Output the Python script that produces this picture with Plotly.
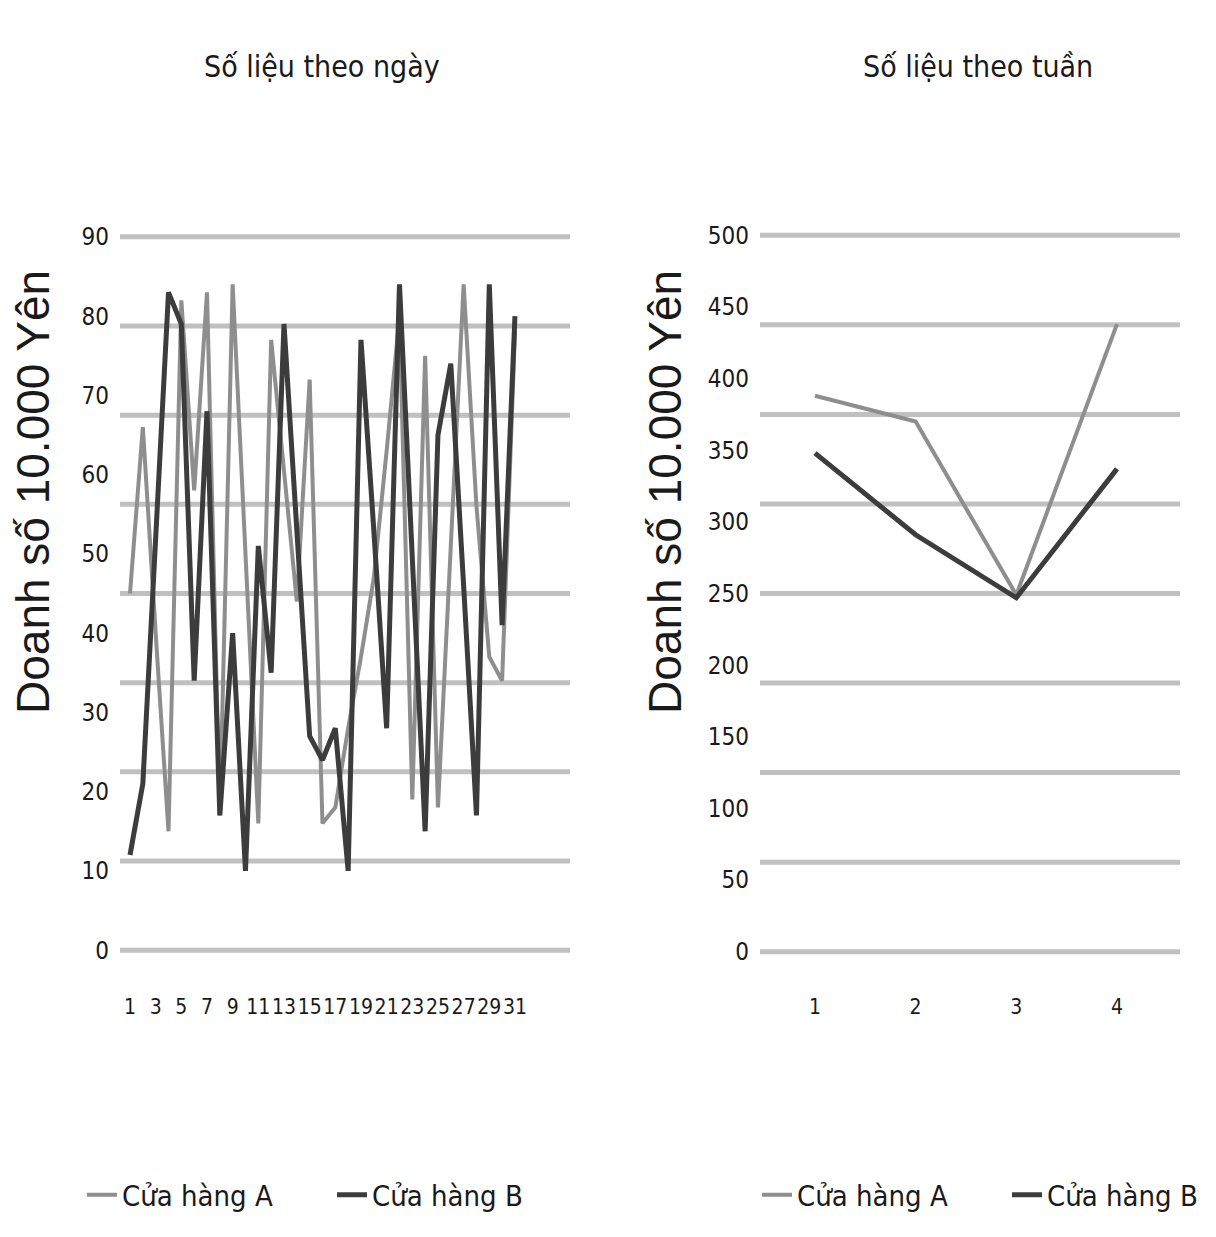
import plotly.graph_objects as go

# ---- data -------------------------------------------------------------
days = list(range(1, 32))
store_a_daily = [45, 66, 40, 15, 82, 58, 83, 17, 84, 50,
                 16, 77, 60, 44, 72, 16, 18, 28, 37, 47,
                 63, 80, 19, 75, 18, 51, 84, 56, 37, 34, 78]
store_b_daily = [12, 21, 52, 83, 79, 34, 68, 17, 40, 10,
                 51, 35, 79, 53, 27, 24, 28, 10, 77, 53,
                 28, 84, 50, 15, 65, 74, 46, 17, 84, 41, 80]

weeks = ["1", "2", "3", "4"]
store_a_weekly = [388, 370, 249, 438]
store_b_weekly = [348, 291, 247, 337]

series_names = ["Cửa hàng A", "Cửa hàng B"]
chart_titles = ["Số liệu theo ngày", "Số liệu theo tuần"]
y_title = "Doanh số 10.000 Yên"
daily_day_ticks = list(range(1, 32, 2))
daily_value_ticks = list(range(0, 91, 10))
weekly_value_ticks = list(range(0, 501, 50))

# ---- styling ----------------------------------------------------------
W, H = 1216, 1237
NARROW = "Liberation Sans Narrow, DejaVu Sans Condensed, Arial Narrow, sans-serif"
WIDE = "Liberation Sans, Arial, sans-serif"
COL_A = "#8e8e8e"
COL_B = "#3c3c3c"
GRID = "#c0c0c0"
TEXT = "#1a1a1a"
GRID_BANDS = 8


def px_x(p):
    return p / W


def px_y(p):
    return 1 - p / H


daily_max = daily_value_ticks[-1]
weekly_max = weekly_value_ticks[-1]
daily_range = [-2, daily_max + 2]
weekly_range = [-10, weekly_max + 10]
# horizontal rules split the value range into equal bands
daily_grid = [daily_max * i / GRID_BANDS for i in range(GRID_BANDS + 1)]
weekly_grid = [weekly_max * i / GRID_BANDS for i in range(GRID_BANDS + 1)]

y_dom = [px_y(966), px_y(221)]

fig = go.Figure()

fig.add_trace(go.Scatter(x=days, y=store_a_daily, name=series_names[0], mode="lines",
                         line=dict(color=COL_A, width=4), xaxis="x", yaxis="y",
                         legend="legend"))
fig.add_trace(go.Scatter(x=days, y=store_b_daily, name=series_names[1], mode="lines",
                         line=dict(color=COL_B, width=5), xaxis="x", yaxis="y",
                         legend="legend"))
fig.add_trace(go.Scatter(x=weeks, y=store_a_weekly, name=series_names[0], mode="lines",
                         line=dict(color=COL_A, width=4), xaxis="x2", yaxis="y2",
                         legend="legend2"))
fig.add_trace(go.Scatter(x=weeks, y=store_b_weekly, name=series_names[1], mode="lines",
                         line=dict(color=COL_B, width=5), xaxis="x2", yaxis="y2",
                         legend="legend2"))

x_tick_font = dict(family=NARROW, size=21, color=TEXT)
y_tick_font = dict(family=NARROW, size=24, color=TEXT)

common_x = dict(showline=False, zeroline=False, showgrid=False, ticks="",
                tickfont=x_tick_font, tickangle=0, ticklabelstandoff=26,
                automargin=False)
common_y = dict(showline=False, zeroline=False, showgrid=False, ticks="",
                tickfont=y_tick_font, ticklabelstandoff=10, automargin=False)

legend_style = dict(orientation="h", y=px_y(1195), xanchor="left", yanchor="middle",
                    font=dict(family=NARROW, size=29, color=TEXT),
                    bgcolor="rgba(0,0,0,0)", entrywidth=205, entrywidthmode="pixels")

fig.update_layout(
    width=W, height=H,
    margin=dict(l=0, r=0, t=0, b=0, autoexpand=False),
    paper_bgcolor="white", plot_bgcolor="white",
    xaxis=dict(domain=[px_x(120), px_x(570)], range=[0.22, 35.29],
               tickvals=daily_day_ticks, anchor="y", **common_x),
    yaxis=dict(domain=y_dom, range=daily_range, tickvals=daily_value_ticks,
               anchor="x", **common_y),
    xaxis2=dict(domain=[px_x(760), px_x(1180)], range=[-0.546, 3.626],
                type="category", anchor="y2", **common_x),
    yaxis2=dict(domain=y_dom, range=weekly_range, tickvals=weekly_value_ticks,
                anchor="x2", **common_y),
    legend=dict(x=px_x(82), **legend_style),
    legend2=dict(x=px_x(757), **legend_style),
    showlegend=True,
)

# horizontal rules behind the lines
for yref, xref, levels in [("y", "x domain", daily_grid), ("y2", "x2 domain", weekly_grid)]:
    for lv in levels:
        fig.add_shape(type="line", xref=xref, yref=yref, x0=0, x1=1, y0=lv, y1=lv,
                      line=dict(color=GRID, width=5), layer="below")

# chart titles
for title, cx in zip(chart_titles, [322, 978]):
    fig.add_annotation(text=title, x=px_x(cx), y=px_y(67), xref="paper", yref="paper",
                       showarrow=False, xanchor="center", yanchor="middle",
                       font=dict(family=NARROW, size=30, color=TEXT))

# rotated value-axis titles
for cx in [33, 665]:
    fig.add_annotation(text=y_title, x=px_x(cx), y=px_y(492), xref="paper", yref="paper",
                       showarrow=False, textangle=-90, xanchor="center", yanchor="middle",
                       font=dict(family=WIDE, size=46, color=TEXT))

fig.write_html("out.html")
